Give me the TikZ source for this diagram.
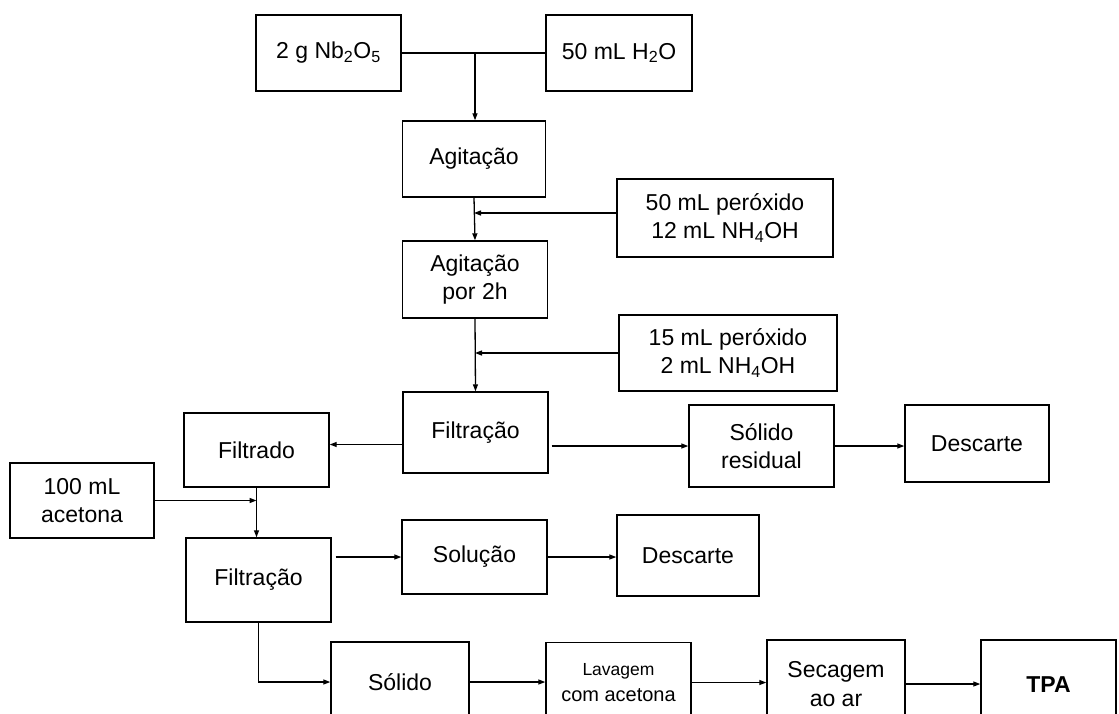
\documentclass[tikz,border=0pt]{standalone}
\usepackage{fontspec}
\setmainfont{Liberation Sans}
\usepackage{xcolor}
\usetikzlibrary{calc,positioning,arrows.meta}
\newcommand{\Txt}{\fontsize{23}{28.5}\selectfont}
\newcommand{\Sml}{\fontsize{20}{26}\selectfont}
\newcommand{\Tiny}{\fontsize{17.5}{26}\selectfont}

\begin{document}
\begin{tikzpicture}[x=1pt,y=-1pt,
    blk/.style={draw, line width=1.4pt, inner sep=0pt, align=center, font=\Txt},
    sml/.style={font=\Sml},
    bld/.style={font=\Txt\bfseries},
    arr/.style={-{Triangle[length=7pt,width=5pt]}, line width=1.3pt}]
  \clip (0,0) rectangle (1119,713);
  \foreach \nm/\cx/\cy/\w/\h/\op/\tx in {
      nb/328.5/53/145/76/{}/{2 g Nb\textsubscript{2}O\textsubscript{5}},
      agua/619/53/146/76/{}/{50 mL H\textsubscript{2}O},
      agit/474/159/143/76/{}/{Agitação},
      per1/725/218/216/78/{}/{50 mL peróxido\\12 mL NH\textsubscript{4}OH},
      agit2/475/279.5/145/77/{}/{Agitação\\por 2h},
      per2/728/353/218/76/{}/{15 mL peróxido\\2 mL NH\textsubscript{4}OH},
      filt1/475.5/432.5/145/81/{}/{Filtração},
      filtrado/256.5/450/145/74/{}/{Filtrado},
      solres/761.5/446/145/82/{}/{Sólido\\residual},
      desc1/977/443.5/144/77/{}/{Descarte},
      acet/82/500.5/144/75/{}/{100 mL\\acetona},
      filt2/258.5/580/145/84/{}/{Filtração},
      solu/474.5/557/145/74/{}/{Solução},
      desc2/688/555.5/142/81/{}/{Descarte},
      solido/400/682/138/80/{}/{Sólido},
      lav/618.5/682.5/145/80/sml/{{\Tiny Lavagem}\\com acetona},
      sec/836/684/138/88/{}/{Secagem\\ao ar},
      tpa/1048.5/685/135/90/bld/{TPA}}{
    \node[blk, \op, minimum width=\w, minimum height=\h] (\nm) at (\cx,\cy) {\tx};
  }
  \draw[line width=1.3pt] (nb.east) -- (agua.west);
  \coordinate (mix) at (475,53);
  \draw[arr] (mix) -- (mix |- agit.north);
  \draw[arr] (agit.south) -- (agit2.north);
  \draw[arr] ([yshift=5pt]per1.west) coordinate (p1) -- (agit.south |- p1);
  \draw[arr] (per2.west) -- (agit2.south |- per2.west);
  \draw[arr] (agit2.south) -- (filt1.north);
  \draw[arr] ([yshift=-12pt]filt1.west) coordinate (f1) -- (filtrado.east |- f1);
  \draw[arr, shorten <=3pt] (filt1.east |- solres.west) -- (solres.west);
  \draw[arr] (solres.east) -- (solres.east -| desc1.west);
  \draw[arr] (acet.east) -- (filtrado.south |- acet.east);
  \draw[arr] (filtrado.south) -- (filtrado.south |- filt2.north);
  \draw[arr, shorten <=4pt] (filt2.east |- solu.west) -- (solu.west);
  \draw[arr] (solu.east) -- (solu.east -| desc2.west);
  \draw[arr] (filt2.south) |- (solido.west);
  \draw[arr] (solido.east) -- (solido.east -| lav.west);
  \draw[arr] (lav.east) -- (lav.east -| sec.west);
  \draw[arr] (sec.east) -- (sec.east -| tpa.west);
\end{tikzpicture}
\end{document}
